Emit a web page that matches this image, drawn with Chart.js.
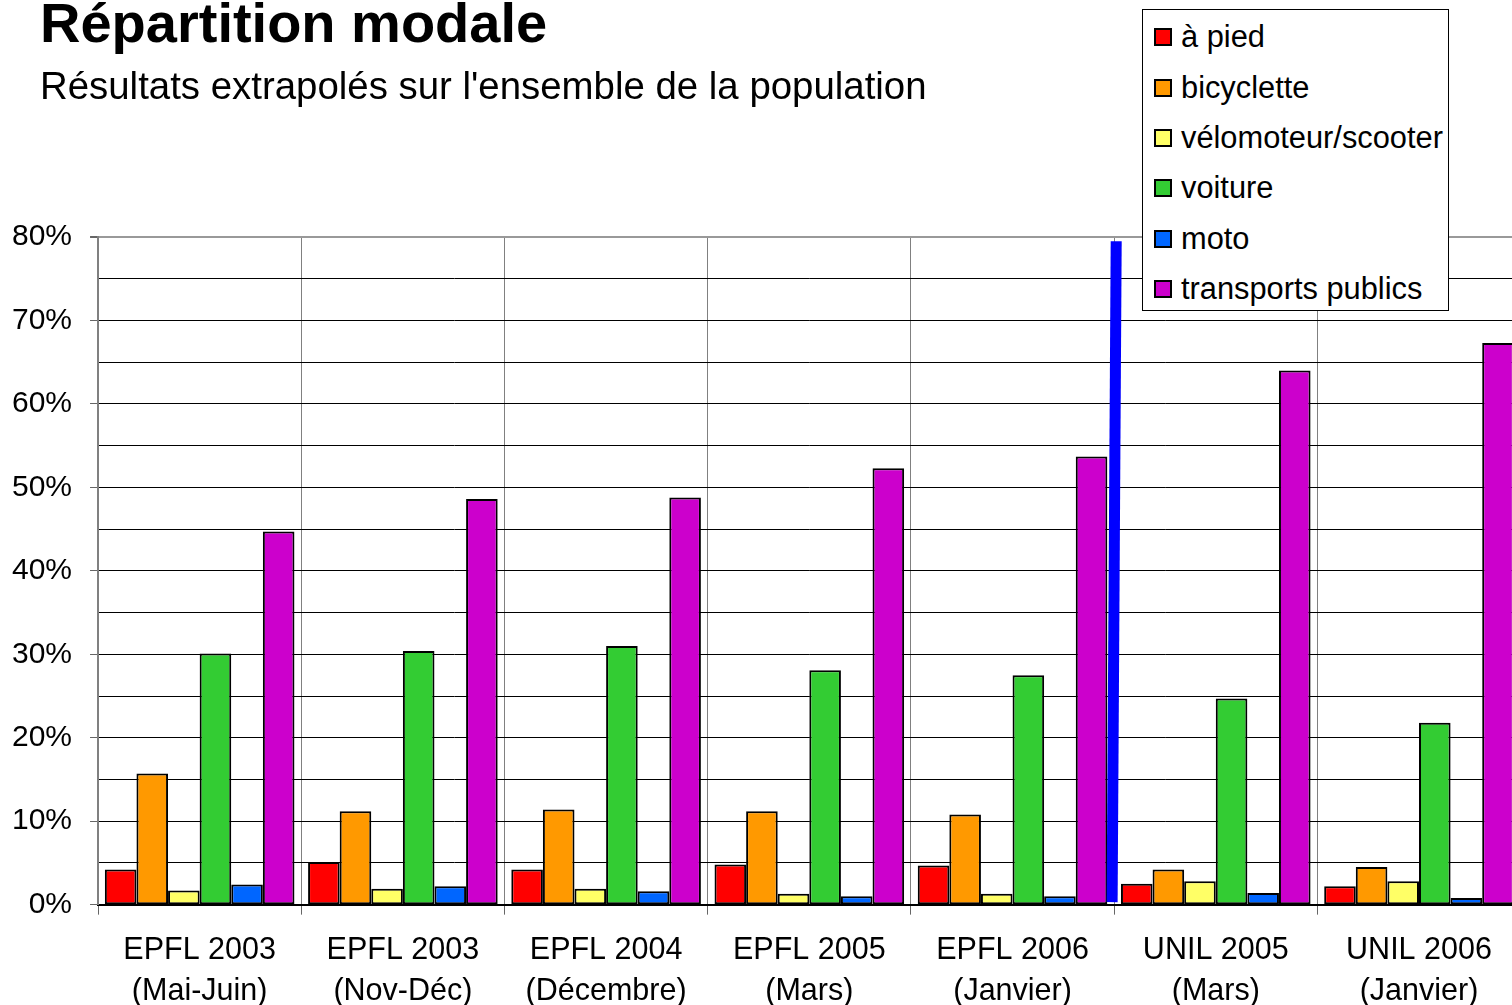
<!DOCTYPE html>
<html>
<head>
<meta charset="utf-8">
<script src="https://cdn.jsdelivr.net/npm/chart.js@4"></script>
<style>
  html, body { margin:0; padding:0; width:1512px; height:1005px; overflow:hidden; background:#fff; }
  body { position:relative; font-family:"Liberation Sans", Arial, sans-serif; }
  #wrap { position:absolute; left:0; top:0; width:1530px; height:1037px; }
  #title { position:absolute; left:40px; top:-5px; font-weight:bold; font-size:56px; line-height:56px; color:#000; white-space:nowrap; }
  #subtitle { position:absolute; left:40px; top:67px; font-size:38.4px; line-height:38.4px; color:#000; white-space:nowrap; }
  #legend { position:absolute; left:1142px; top:9px; width:307px; height:302px; box-sizing:border-box; border:1px solid #000; background:#fff; padding-top:2px; }
  .row { height:50.4px; display:flex; align-items:center; padding-left:11px; font-size:30.8px; color:#000; white-space:nowrap; }
  .sw { width:14px; height:14px; border:2px solid #000; margin-right:9px; flex:none; }
</style>
</head>
<body>
<div id="wrap"><canvas id="c"></canvas></div>
<div id="title">Répartition modale</div>
<div id="subtitle">Résultats extrapolés sur l'ensemble de la population</div>
<div id="legend"></div>
<script>
// ---- data ----
const categoryLine1 = ["EPFL 2003", "EPFL 2003", "EPFL 2004", "EPFL 2005", "EPFL 2006", "UNIL 2005", "UNIL 2006"];
const categoryLine2 = ["(Mai-Juin)", "(Nov-Déc)", "(Décembre)", "(Mars)", "(Janvier)", "(Mars)", "(Janvier)"];
const seriesNames = ["à pied", "bicyclette", "vélomoteur/scooter", "voiture", "moto", "transports publics"];
const aPied      = [4.2, 5.1, 4.2, 4.8, 4.7, 2.5, 2.2];
const bicyclette = [15.7, 11.2, 11.4, 11.2, 10.8, 4.2, 4.5];
const velomoteur = [1.7, 1.9, 1.9, 1.3, 1.3, 2.8, 2.8];
const voiture    = [30.1, 30.4, 31.0, 28.1, 27.5, 24.7, 21.8];
const moto       = [2.4, 2.2, 1.6, 1.0, 1.0, 1.4, 0.8];
const transports = [44.7, 48.6, 48.8, 52.3, 53.7, 64.0, 67.3];
const seriesColors = ["#FF0000", "#FF9900", "#FFFF66", "#33CC33", "#0066FF", "#CC00CC"];
const yTicks = [0, 10, 20, 30, 40, 50, 60, 70, 80];
// separator line drawn between EPFL and UNIL groups (x in category index units, y in %)
const separatorX = [4.51, 4.49];
const separatorY = [79.5, 0.3];

const seriesValues = [aPied, bicyclette, velomoteur, voiture, moto, transports];
const labels = categoryLine1.map((l, i) => [l, categoryLine2[i]]);

const datasets = seriesValues.map((vals, i) => ({
  label: seriesNames[i],
  data: vals,
  backgroundColor: seriesColors[i],
  borderColor: '#000',
  borderWidth: 2,
  borderSkipped: false,
  categoryPercentage: 0.933,
  barPercentage: 1.0
}));

// separator drawn through the chart's own scales
const separatorPlugin = {
  id: 'separator',
  afterDatasetsDraw(chart) {
    const xs = chart.scales.x, ys = chart.scales.y;
    const ctx = chart.ctx;
    ctx.save();
    ctx.strokeStyle = '#0000FF';
    ctx.lineWidth = 11;
    ctx.lineCap = 'butt';
    ctx.beginPath();
    separatorX.forEach((xv, i) => {
      const px = xs.getPixelForValue(xv);
      const py = ys.getPixelForValue(separatorY[i]);
      if (i === 0) ctx.moveTo(px, py); else ctx.lineTo(px, py);
    });
    ctx.stroke();
    ctx.restore();
  }
};

// legend
const lg = document.getElementById('legend');
seriesNames.forEach((n, i) => {
  const r = document.createElement('div');
  r.className = 'row';
  const s = document.createElement('span');
  s.className = 'sw';
  s.style.background = seriesColors[i];
  r.appendChild(s);
  r.appendChild(document.createTextNode(n));
  lg.appendChild(r);
});

const fam = '"Liberation Sans", Arial, sans-serif';

new Chart(document.getElementById('c'), {
  type: 'bar',
  data: { labels: labels, datasets: datasets },
  plugins: [separatorPlugin],
  options: {
    responsive: true,
    maintainAspectRatio: false,
    animation: false,
    events: [],
    layout: { padding: { left: -6, top: 237, right: 9.4, bottom: 10 } },
    plugins: { legend: { display: false }, tooltip: { enabled: false }, title: { display: false } },
    scales: {
      x: {
        offset: true,
        grid: { offset: true, color: '#808080', lineWidth: 1, tickLength: 10, tickColor: '#666', drawOnChartArea: true },
        border: { color: '#000', width: 2 },
        ticks: { font: { family: fam, size: 30.5, lineHeight: 1.35 }, color: '#000', padding: 15, maxRotation: 0, autoSkip: false }
      },
      y: {
        min: 0,
        max: 80,
        afterBuildTicks: (axis) => {
          const t = [];
          for (let v = 0; v <= 80; v += 5) t.push({ value: v });
          axis.ticks = t;
        },
        grid: {
          color: (ctx) => (ctx.tick && ctx.tick.value === 80) ? '#999' : '#000',
          lineWidth: (ctx) => (ctx.tick && ctx.tick.value === 80) ? 2 : 1,
          tickColor: (ctx) => (ctx.tick && yTicks.includes(ctx.tick.value)) ? '#666' : 'rgba(0,0,0,0)',
          tickLength: 8
        },
        border: { color: '#808080', width: 2 },
        ticks: {
          autoSkip: false,
          font: { family: fam, size: 30 },
          color: '#000',
          padding: 18,
          callback: (v) => yTicks.includes(v) ? v + '%' : ''
        }
      }
    }
  }
});
</script>
</body>
</html>
